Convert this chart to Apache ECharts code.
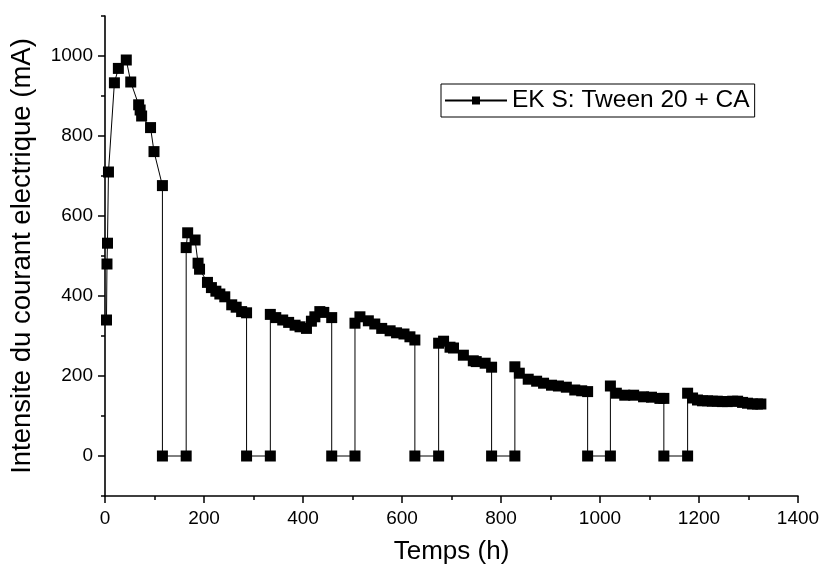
<!DOCTYPE html>
<html>
<head>
<meta charset="utf-8">
<script src="https://cdn.jsdelivr.net/npm/echarts@6/dist/echarts.min.js"></script>
<style>
html,body{margin:0;padding:0;background:#fff;}
#c{width:828px;height:570px;}
</style>
</head>
<body>
<div id="c"></div>
<script>
const seriesName = 'EK S: Tween 20 + CA';
const xTitle = 'Temps (h)';
const yTitle = 'Intensite du courant electrique (mA)';
const xTicks = [0, 200, 400, 600, 800, 1000, 1200, 1400];
const yTicks = [0, 200, 400, 600, 800, 1000];

const timeH = [
  3, 4, 5, 7, 19, 27, 43, 52, 68, 71, 74, 92, 99, 116, 116,
  164, 164, 167, 182, 188, 191, 207, 215, 224, 232, 242, 256, 265, 276, 286, 286,
  334, 334, 345, 359, 371, 384, 394, 407, 417, 424, 434, 442, 458, 458,
  505, 505, 515, 532, 545, 559, 576, 589, 604, 616, 626, 626,
  674, 674, 684, 697, 704, 724, 744, 750, 768, 781, 781,
  828, 828, 837, 855, 872, 886, 902, 916, 932, 949, 963, 975, 975,
  1021, 1021, 1033, 1050, 1068, 1088, 1104, 1121, 1129, 1129,
  1177, 1177, 1187, 1197, 1207, 1217, 1227, 1237, 1247, 1257, 1268, 1278, 1288, 1298, 1308, 1318, 1325
];
const currentMA = [
  340, 480, 532, 710, 933, 969, 990, 935, 878, 865, 850, 821, 761, 676, 0,
  0, 521, 558, 540, 482, 467, 434, 421, 412, 405, 398, 378, 372, 361, 358, 0,
  0, 354, 346, 340, 334, 327, 323, 319, 337, 348, 361, 359, 346, 0,
  0, 332, 348, 338, 330, 319, 313, 308, 305, 298, 290, 0,
  0, 282, 287, 272, 270, 252, 238, 236, 232, 222, 0,
  0, 223, 207, 192, 187, 182, 177, 175, 172, 165, 163, 161, 0,
  0, 175, 157, 152, 152, 148, 147, 144, 144, 0,
  0, 157, 145, 140, 138, 138, 137, 137, 136, 136, 137, 137, 134, 132, 130, 130, 130
];

const pts = timeH.map((t, i) => [t, currentMA[i]]);
const FONT = 'Liberation Sans, Arial, sans-serif';
const plain = v => String(v);

const chart = echarts.init(document.getElementById('c'), null, {renderer: 'canvas'});
chart.setOption({
  animation: false,
  backgroundColor: '#fff',
  textStyle: {fontFamily: FONT, color: '#000'},
  grid: [
    {left: 105, right: 30, top: 16, bottom: 74, containLabel: false},
    {left: 105, right: 30, top: 56, bottom: 114, containLabel: false}
  ],
  legend: {
    left: 441, top: 84,
    padding: [4, 5, 4, 3],
    borderColor: '#000', borderWidth: 1,
    itemWidth: 62, itemHeight: 10, itemGap: 4,
    textStyle: {fontFamily: FONT, fontSize: 24.5, color: '#000'},
    data: [seriesName]
  },
  xAxis: [
    {
      gridIndex: 0, type: 'value', min: xTicks[0], max: xTicks[xTicks.length - 1], interval: 200,
      name: xTitle, nameLocation: 'middle', nameGap: 43,
      nameTextStyle: {fontFamily: FONT, fontSize: 26, color: '#000'},
      axisLine: {show: true, onZero: false, lineStyle: {color: '#000', width: 1.6}},
      axisTick: {show: true, inside: false, length: 7, lineStyle: {color: '#000', width: 1.5}},
      minorTick: {show: true, splitNumber: 2, length: 4, lineStyle: {color: '#000', width: 1.5}},
      axisLabel: {fontFamily: FONT, fontSize: 19, color: '#000', margin: 13, formatter: plain},
      splitLine: {show: false}
    },
    {gridIndex: 1, type: 'value', min: 0, max: 1400, show: false}
  ],
  yAxis: [
    {
      gridIndex: 0, type: 'value', min: -100, max: 1100, interval: 100,
      name: yTitle, nameLocation: 'middle', nameGap: 69, nameRotate: 90,
      nameTextStyle: {fontFamily: FONT, fontSize: 27.5, color: '#000'},
      axisLine: {show: true, onZero: false, lineStyle: {color: '#000', width: 1.6}},
      axisTick: {show: true, inside: false, length: 4, lineStyle: {color: '#000', width: 1.5}},
      axisLabel: {show: false},
      splitLine: {show: false}
    },
    {
      gridIndex: 1, type: 'value', min: yTicks[0], max: yTicks[yTicks.length - 1], interval: 200,
      axisLine: {show: false},
      axisTick: {show: true, inside: false, length: 7, lineStyle: {color: '#000', width: 1.5}},
      axisLabel: {fontFamily: FONT, fontSize: 19, color: '#000', margin: 12, formatter: plain},
      splitLine: {show: false}
    }
  ],
  series: [{
    name: seriesName,
    type: 'line',
    xAxisIndex: 0, yAxisIndex: 0,
    data: pts,
    symbol: 'rect', symbolSize: 11,
    showAllSymbol: true,
    itemStyle: {color: '#000'},
    lineStyle: {color: '#000', width: 1},
    z: 3
  }]
});
</script>
</body>
</html>
